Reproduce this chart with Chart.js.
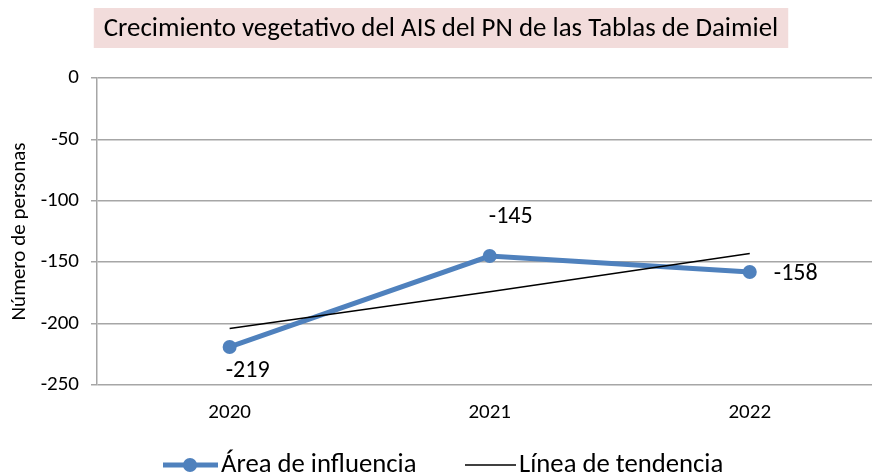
<!DOCTYPE html>
<html><head><meta charset="utf-8">
<script src="https://cdn.jsdelivr.net/npm/chart.js@4.4.1/dist/chart.umd.min.js"></script>
<style>html,body{margin:0;padding:0;background:#fff}#wrap{width:872px;height:475px;position:relative}</style>
</head><body><div id="wrap"><canvas id="c" width="872" height="475"></canvas></div>
<script>
const years = [2020, 2021, 2022];
const influencia = [-219, -145, -158];
const tendencia = [-204, -174, -143];
const yTicks = [0, -50, -100, -150, -200, -250];
const titleText = 'Crecimiento vegetativo del AIS del PN de las Tablas de Daimiel';
const seriesNames = ['Área de influencia', 'Línea de tendencia'];
const FONT = 'Carlito, "Liberation Sans Narrow", "Liberation Sans", sans-serif';
const BLUE = '#4f81bd';

const decor = {
  id: 'decor',
  afterDraw(chart) {
    const ctx = chart.ctx;
    ctx.save();
    // title
    ctx.font = '26.9px ' + FONT;
    const tw = ctx.measureText(titleText).width;
    const cx = 441;
    ctx.fillStyle = '#f2dcdb';
    ctx.fillRect(cx - tw / 2 - 10, 8, tw + 20, 40);
    ctx.fillStyle = '#000';
    ctx.textAlign = 'center';
    ctx.textBaseline = 'middle';
    ctx.fillText(titleText, cx, 29);
    // data labels
    const meta = chart.getDatasetMeta(0);
    ctx.font = '24px ' + FONT;
    const offs = [[18, 24], [21, -39], [46, 2]];
    meta.data.forEach((p, i) => {
      ctx.fillText(String(influencia[i]), p.x + offs[i][0], p.y + offs[i][1]);
    });
    // legend
    const ly = 465;
    ctx.strokeStyle = BLUE; ctx.lineWidth = 5;
    ctx.beginPath(); ctx.moveTo(163, ly); ctx.lineTo(218, ly); ctx.stroke();
    ctx.fillStyle = BLUE;
    ctx.beginPath(); ctx.arc(190, ly, 7, 0, Math.PI * 2); ctx.fill();
    ctx.fillStyle = '#000';
    ctx.font = '26.7px ' + FONT;
    ctx.textAlign = 'left';
    ctx.fillText(seriesNames[0], 221, ly);
    ctx.strokeStyle = '#000'; ctx.lineWidth = 1.5;
    ctx.beginPath(); ctx.moveTo(465, ly); ctx.lineTo(516, ly); ctx.stroke();
    ctx.fillText(seriesNames[1], 519, ly);
    ctx.restore();
  }
};

new Chart(document.getElementById('c'), {
  type: 'line',
  data: {
    datasets: [
      {
        label: seriesNames[0],
        data: years.map((y, i) => ({x: y, y: influencia[i]})),
        borderColor: BLUE, backgroundColor: BLUE,
        borderWidth: 5, pointRadius: 7, pointHoverRadius: 7,
        pointBackgroundColor: BLUE, pointBorderWidth: 0, tension: 0, order: 1
      },
      {
        label: seriesNames[1],
        data: years.map((y, i) => ({x: y, y: tendencia[i]})),
        borderColor: '#000', borderWidth: 1.5, pointRadius: 0, tension: 0, order: 0
      }
    ]
  },
  options: {
    responsive: false, animation: false,
    layout: {autoPadding: false, padding: {top: 78, left: 7, right: 0, bottom: 0}},
    plugins: {legend: {display: false}, title: {display: false}, tooltip: {enabled: false}},
    scales: {
      x: {
        type: 'linear', min: 2019.49, max: 2022.47,
        afterBuildTicks: s => { s.ticks = years.map(v => ({value: v})); },
        afterFit: s => { s.height = 90; s.paddingLeft = 0; s.paddingRight = 0; },
        grid: {display: false, drawTicks: false},
        border: {display: false},
        ticks: {font: {family: FONT, size: 21}, color: '#000', padding: 15, callback: v => String(v)}
      },
      y: {
        min: -250, max: 0,
        afterBuildTicks: s => { s.ticks = yTicks.map(v => ({value: v})); },
        afterFit: s => { s.width = 90; },
        grid: {color: '#a6a6a6', lineWidth: 1.5, drawTicks: true, tickLength: 6},
        border: {display: true, color: '#a6a6a6', width: 1.5},
        ticks: {font: {family: FONT, size: 21}, color: '#000', padding: 12},
        title: {display: true, text: 'Número de personas', font: {family: FONT, size: 21}, color: '#000', padding: 0}
      }
    }
  },
  plugins: [decor]
});
</script></body></html>
